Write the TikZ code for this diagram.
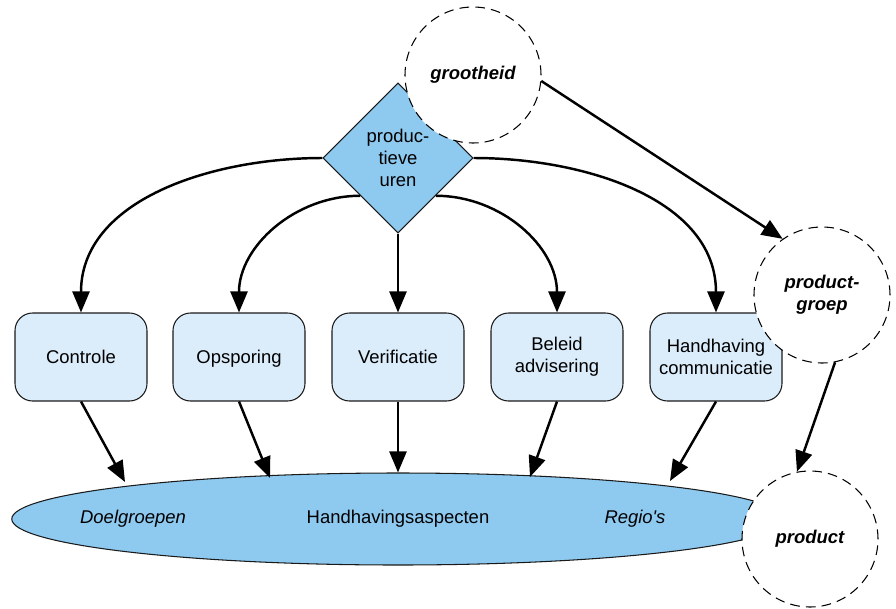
\documentclass[tikz,border=0pt]{standalone}
\usepackage{fontspec}
\setmainfont{Liberation Sans}
\usepackage{tikz}
\usetikzlibrary{
    shapes.geometric,
    arrows.meta,
    positioning
}
\definecolor{skyfill}{HTML}{8ECAF0}
\definecolor{boxfill}{HTML}{DBECFA}
\definecolor{edge}{HTML}{1A1A1A}
\tikzset{
    % Task box style
    task/.style={
        rectangle,
        rounded corners=10pt,
        minimum width=2.64cm,
        minimum height=1.76cm,
        align=center,
        font=\fontsize{10.5}{12.5}\selectfont,
        draw=edge,
        fill=boxfill,
        line width=0.6pt
    },
    % Central decision style
    hub/.style={
        diamond,
        aspect=1,
        inner sep=0pt,
        minimum width=3cm,
        minimum height=3cm,
        align=center,
        font=\fontsize{10.5}{12.5}\selectfont,
        draw=edge,
        fill=skyfill,
        line width=0.6pt
    },
    % Dimension circle style
    dimension/.style={
        circle,
        minimum size=2.72cm,
        align=center,
        font=\fontsize{10.5}{12.5}\selectfont\bfseries\itshape,
        draw=black,
        fill=white,
        dash pattern=on 5.5pt off 3.5pt,
        line width=0.6pt
    },
    % Arrow style
    flow/.style={
        -{Triangle[length=4.2mm, width=3.4mm]},
        line width=1.4pt,
        color=black
    }
}
\begin{document}
\begin{tikzpicture}
        \useasboundingbox (0,0) rectangle (17.92,-12.18);

        % Aspects
        \node[ellipse, draw=edge, fill=skyfill, line width=0.6pt,
              minimum width=15.45cm, minimum height=1.84cm] (aspects) at (7.96, -10.38) {};
        \node[font=\fontsize{10.5}{12.5}\selectfont\itshape] (doel) at (2.66, -10.38) {Doelgroepen};
        \node[font=\fontsize{10.5}{12.5}\selectfont] (hh) at (7.96, -10.38) {Handhavingsaspecten};
        \node[font=\fontsize{10.5}{12.5}\selectfont\itshape] (regio) at (12.70, -10.38) {Regio\textquotesingle s};

        % Tasks
        \node[task] (controle) at (1.62, -7.14) {Controle};
        \node[task, text depth=0pt] (opsporing) at (4.78, -7.14) {Opsporing};
        \node[task] (verificatie) at (7.96, -7.14) {Verificatie};
        \node[task] (beleid) at (11.14, -7.14) {Beleid\\advisering};
        \node[task] (communicatie) at (14.32, -7.14) {Handhaving\\communicatie};

        % Hours
        \node[hub] (uren) at (7.96, -3.16) {produc-\\tieve\\uren};

        % Hours to tasks
        \draw[flow] (uren.west) to[out=180, in=90] (controle.north);
        \draw[flow] (uren.south west) to[out=180, in=90] (opsporing.north);
        \draw[flow] (uren.south) -- (verificatie.north);
        \draw[flow] (uren.south east) to[out=0, in=90] (beleid.north);
        \draw[flow] (uren.east) to[out=0, in=90] (communicatie.north);

        % Tasks to aspects
        \draw[flow] (controle.south) -- (2.50, -9.64);
        \draw[flow] (opsporing.south) -- (5.40, -9.56);
        \draw[flow] (verificatie.south) -- (aspects.north);
        \draw[flow] (beleid.south) -- (10.60, -9.54);
        \draw[flow] (communicatie.south) -- (13.40, -9.62);

        % Dimensions
        \node[dimension] (grootheid) at (9.46, -1.50) {grootheid};
        \node[dimension] (productgroep) at (16.44, -5.90) {product-\\groep};
        \node[dimension] (product) at (16.20, -10.78) {product};

        \draw[flow] (grootheid.-5) -- (productgroep.125);
        \draw[flow] (productgroep.-79) -- (product.101);

    \end{tikzpicture}
\end{document}
